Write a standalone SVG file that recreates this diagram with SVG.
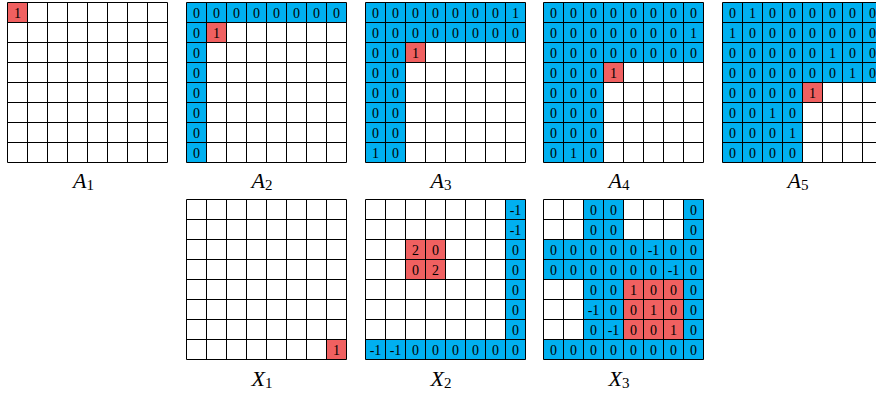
<svg xmlns="http://www.w3.org/2000/svg" xmlns:xlink="http://www.w3.org/1999/xlink" width="876" height="396" viewBox="0 0 876 396">
<style>
.bg{fill:#fff}
.b{fill:#00B0F0}
.r{fill:#F06060}
.gl{fill:none;stroke:#000;stroke-width:1}
.t{font-family:"Liberation Serif","Times New Roman",serif;font-size:14px;text-anchor:middle;fill:#000}
.lbl{font-family:"Liberation Serif","Times New Roman",serif;font-size:22px;text-anchor:middle;fill:#000}
.lbl .m{font-style:italic}
.lbl .s{font-size:15px}
</style>
<defs>
<path id="gl" class="gl" d="M0 0H160M0 20H160M0 40H160M0 60H160M0 80H160M0 100H160M0 120H160M0 140H160M0 160H160M0 0V160M20 0V160M40 0V160M60 0V160M80 0V160M100 0V160M120 0V160M140 0V160M160 0V160"/>
</defs>

<g id="A1" transform="translate(7.5,2.5)">
<rect class="bg" width="160" height="160"/>
<rect class="r" x="0" y="0" width="20" height="20"/>
<use xlink:href="#gl" href="#gl"/>
<text class="t" x="10" y="15">1</text>
</g>

<g id="A2" transform="translate(186.5,2.5)">
<rect class="bg" width="160" height="160"/>
<rect class="b" x="0" y="0" width="160" height="20"/>
<rect class="b" x="0" y="20" width="20" height="140"/>
<rect class="r" x="20" y="20" width="20" height="20"/>
<use xlink:href="#gl" href="#gl"/>
<text class="t" x="10" y="15">0</text><text class="t" x="30" y="15">0</text><text class="t" x="50" y="15">0</text><text class="t" x="70" y="15">0</text><text class="t" x="90" y="15">0</text><text class="t" x="110" y="15">0</text><text class="t" x="130" y="15">0</text><text class="t" x="150" y="15">0</text>
<text class="t" x="10" y="35">0</text><text class="t" x="10" y="55">0</text><text class="t" x="10" y="75">0</text><text class="t" x="10" y="95">0</text><text class="t" x="10" y="115">0</text><text class="t" x="10" y="135">0</text><text class="t" x="10" y="155">0</text>
<text class="t" x="30" y="35">1</text>
</g>

<g id="A3" transform="translate(365.5,2.5)">
<rect class="bg" width="160" height="160"/>
<rect class="b" x="0" y="0" width="160" height="40"/>
<rect class="b" x="0" y="40" width="40" height="120"/>
<rect class="r" x="40" y="40" width="20" height="20"/>
<use xlink:href="#gl" href="#gl"/>
<text class="t" x="10" y="15">0</text><text class="t" x="30" y="15">0</text><text class="t" x="50" y="15">0</text><text class="t" x="70" y="15">0</text><text class="t" x="90" y="15">0</text><text class="t" x="110" y="15">0</text><text class="t" x="130" y="15">0</text><text class="t" x="150" y="15">1</text>
<text class="t" x="10" y="35">0</text><text class="t" x="30" y="35">0</text><text class="t" x="50" y="35">0</text><text class="t" x="70" y="35">0</text><text class="t" x="90" y="35">0</text><text class="t" x="110" y="35">0</text><text class="t" x="130" y="35">0</text><text class="t" x="150" y="35">0</text>
<text class="t" x="10" y="55">0</text><text class="t" x="30" y="55">0</text><text class="t" x="50" y="55">1</text>
<text class="t" x="10" y="75">0</text><text class="t" x="30" y="75">0</text>
<text class="t" x="10" y="95">0</text><text class="t" x="30" y="95">0</text>
<text class="t" x="10" y="115">0</text><text class="t" x="30" y="115">0</text>
<text class="t" x="10" y="135">0</text><text class="t" x="30" y="135">0</text>
<text class="t" x="10" y="155">1</text><text class="t" x="30" y="155">0</text>
</g>

<g id="A4" transform="translate(543.5,2.5)">
<rect class="bg" width="160" height="160"/>
<rect class="b" x="0" y="0" width="160" height="60"/>
<rect class="b" x="0" y="60" width="60" height="100"/>
<rect class="r" x="60" y="60" width="20" height="20"/>
<use xlink:href="#gl" href="#gl"/>
<text class="t" x="10" y="15">0</text><text class="t" x="30" y="15">0</text><text class="t" x="50" y="15">0</text><text class="t" x="70" y="15">0</text><text class="t" x="90" y="15">0</text><text class="t" x="110" y="15">0</text><text class="t" x="130" y="15">0</text><text class="t" x="150" y="15">0</text>
<text class="t" x="10" y="35">0</text><text class="t" x="30" y="35">0</text><text class="t" x="50" y="35">0</text><text class="t" x="70" y="35">0</text><text class="t" x="90" y="35">0</text><text class="t" x="110" y="35">0</text><text class="t" x="130" y="35">0</text><text class="t" x="150" y="35">1</text>
<text class="t" x="10" y="55">0</text><text class="t" x="30" y="55">0</text><text class="t" x="50" y="55">0</text><text class="t" x="70" y="55">0</text><text class="t" x="90" y="55">0</text><text class="t" x="110" y="55">0</text><text class="t" x="130" y="55">0</text><text class="t" x="150" y="55">0</text>
<text class="t" x="10" y="75">0</text><text class="t" x="30" y="75">0</text><text class="t" x="50" y="75">0</text><text class="t" x="70" y="75">1</text>
<text class="t" x="10" y="95">0</text><text class="t" x="30" y="95">0</text><text class="t" x="50" y="95">0</text>
<text class="t" x="10" y="115">0</text><text class="t" x="30" y="115">0</text><text class="t" x="50" y="115">0</text>
<text class="t" x="10" y="135">0</text><text class="t" x="30" y="135">0</text><text class="t" x="50" y="135">0</text>
<text class="t" x="10" y="155">0</text><text class="t" x="30" y="155">1</text><text class="t" x="50" y="155">0</text>
</g>

<g id="A5" transform="translate(722.5,2.5)">
<rect class="bg" width="160" height="160"/>
<rect class="b" x="0" y="0" width="160" height="80"/>
<rect class="b" x="0" y="80" width="80" height="80"/>
<rect class="r" x="80" y="80" width="20" height="20"/>
<use xlink:href="#gl" href="#gl"/>
<text class="t" x="10" y="15">0</text><text class="t" x="30" y="15">1</text><text class="t" x="50" y="15">0</text><text class="t" x="70" y="15">0</text><text class="t" x="90" y="15">0</text><text class="t" x="110" y="15">0</text><text class="t" x="130" y="15">0</text><text class="t" x="150" y="15">0</text>
<text class="t" x="10" y="35">1</text><text class="t" x="30" y="35">0</text><text class="t" x="50" y="35">0</text><text class="t" x="70" y="35">0</text><text class="t" x="90" y="35">0</text><text class="t" x="110" y="35">0</text><text class="t" x="130" y="35">0</text><text class="t" x="150" y="35">0</text>
<text class="t" x="10" y="55">0</text><text class="t" x="30" y="55">0</text><text class="t" x="50" y="55">0</text><text class="t" x="70" y="55">0</text><text class="t" x="90" y="55">0</text><text class="t" x="110" y="55">1</text><text class="t" x="130" y="55">0</text><text class="t" x="150" y="55">0</text>
<text class="t" x="10" y="75">0</text><text class="t" x="30" y="75">0</text><text class="t" x="50" y="75">0</text><text class="t" x="70" y="75">0</text><text class="t" x="90" y="75">0</text><text class="t" x="110" y="75">0</text><text class="t" x="130" y="75">1</text><text class="t" x="150" y="75">0</text>
<text class="t" x="10" y="95">0</text><text class="t" x="30" y="95">0</text><text class="t" x="50" y="95">0</text><text class="t" x="70" y="95">0</text><text class="t" x="90" y="95">1</text>
<text class="t" x="10" y="115">0</text><text class="t" x="30" y="115">0</text><text class="t" x="50" y="115">1</text><text class="t" x="70" y="115">0</text>
<text class="t" x="10" y="135">0</text><text class="t" x="30" y="135">0</text><text class="t" x="50" y="135">0</text><text class="t" x="70" y="135">1</text>
<text class="t" x="10" y="155">0</text><text class="t" x="30" y="155">0</text><text class="t" x="50" y="155">0</text><text class="t" x="70" y="155">0</text>
</g>

<g id="X1" transform="translate(186.5,199.5)">
<rect class="bg" width="160" height="160"/>
<rect class="r" x="140" y="140" width="20" height="20"/>
<use xlink:href="#gl" href="#gl"/>
<text class="t" x="150" y="155">1</text>
</g>

<g id="X2" transform="translate(365.5,199.5)">
<rect class="bg" width="160" height="160"/>
<rect class="b" x="140" y="0" width="20" height="160"/>
<rect class="b" x="0" y="140" width="160" height="20"/>
<rect class="r" x="40" y="40" width="40" height="40"/>
<use xlink:href="#gl" href="#gl"/>
<text class="t" x="150" y="15">-1</text><text class="t" x="150" y="35">-1</text><text class="t" x="150" y="55">0</text><text class="t" x="150" y="75">0</text><text class="t" x="150" y="95">0</text><text class="t" x="150" y="115">0</text><text class="t" x="150" y="135">0</text>
<text class="t" x="10" y="155">-1</text><text class="t" x="30" y="155">-1</text><text class="t" x="50" y="155">0</text><text class="t" x="70" y="155">0</text><text class="t" x="90" y="155">0</text><text class="t" x="110" y="155">0</text><text class="t" x="130" y="155">0</text><text class="t" x="150" y="155">0</text>
<text class="t" x="50" y="55">2</text><text class="t" x="70" y="55">0</text><text class="t" x="50" y="75">0</text><text class="t" x="70" y="75">2</text>
</g>

<g id="X3" transform="translate(543.5,199.5)">
<rect class="bg" width="160" height="160"/>
<rect class="b" x="40" y="0" width="40" height="40"/>
<rect class="b" x="140" y="0" width="20" height="160"/>
<rect class="b" x="0" y="40" width="160" height="40"/>
<rect class="b" x="40" y="80" width="40" height="60"/>
<rect class="b" x="0" y="140" width="160" height="20"/>
<rect class="r" x="80" y="80" width="60" height="60"/>
<use xlink:href="#gl" href="#gl"/>
<text class="t" x="50" y="15">0</text><text class="t" x="70" y="15">0</text><text class="t" x="150" y="15">0</text>
<text class="t" x="50" y="35">0</text><text class="t" x="70" y="35">0</text><text class="t" x="150" y="35">0</text>
<text class="t" x="10" y="55">0</text><text class="t" x="30" y="55">0</text><text class="t" x="50" y="55">0</text><text class="t" x="70" y="55">0</text><text class="t" x="90" y="55">0</text><text class="t" x="110" y="55">-1</text><text class="t" x="130" y="55">0</text><text class="t" x="150" y="55">0</text>
<text class="t" x="10" y="75">0</text><text class="t" x="30" y="75">0</text><text class="t" x="50" y="75">0</text><text class="t" x="70" y="75">0</text><text class="t" x="90" y="75">0</text><text class="t" x="110" y="75">0</text><text class="t" x="130" y="75">-1</text><text class="t" x="150" y="75">0</text>
<text class="t" x="50" y="95">0</text><text class="t" x="70" y="95">0</text><text class="t" x="90" y="95">1</text><text class="t" x="110" y="95">0</text><text class="t" x="130" y="95">0</text><text class="t" x="150" y="95">0</text>
<text class="t" x="50" y="115">-1</text><text class="t" x="70" y="115">0</text><text class="t" x="90" y="115">0</text><text class="t" x="110" y="115">1</text><text class="t" x="130" y="115">0</text><text class="t" x="150" y="115">0</text>
<text class="t" x="50" y="135">0</text><text class="t" x="70" y="135">-1</text><text class="t" x="90" y="135">0</text><text class="t" x="110" y="135">0</text><text class="t" x="130" y="135">1</text><text class="t" x="150" y="135">0</text>
<text class="t" x="10" y="155">0</text><text class="t" x="30" y="155">0</text><text class="t" x="50" y="155">0</text><text class="t" x="70" y="155">0</text><text class="t" x="90" y="155">0</text><text class="t" x="110" y="155">0</text><text class="t" x="130" y="155">0</text><text class="t" x="150" y="155">0</text>
</g>

<g id="labels">
<text class="lbl" x="83.5" y="187.5"><tspan class="m">A</tspan><tspan class="s" dy="2">1</tspan></text>
<text class="lbl" x="262" y="187.5"><tspan class="m">A</tspan><tspan class="s" dy="2">2</tspan></text>
<text class="lbl" x="441" y="187.5"><tspan class="m">A</tspan><tspan class="s" dy="2">3</tspan></text>
<text class="lbl" x="619" y="187.5"><tspan class="m">A</tspan><tspan class="s" dy="2">4</tspan></text>
<text class="lbl" x="798" y="187.5"><tspan class="m">A</tspan><tspan class="s" dy="2">5</tspan></text>
<text class="lbl" x="262" y="385.5"><tspan class="m">X</tspan><tspan class="s" dy="2">1</tspan></text>
<text class="lbl" x="441" y="385.5"><tspan class="m">X</tspan><tspan class="s" dy="2">2</tspan></text>
<text class="lbl" x="619" y="385.5"><tspan class="m">X</tspan><tspan class="s" dy="2">3</tspan></text>
</g>
</svg>
